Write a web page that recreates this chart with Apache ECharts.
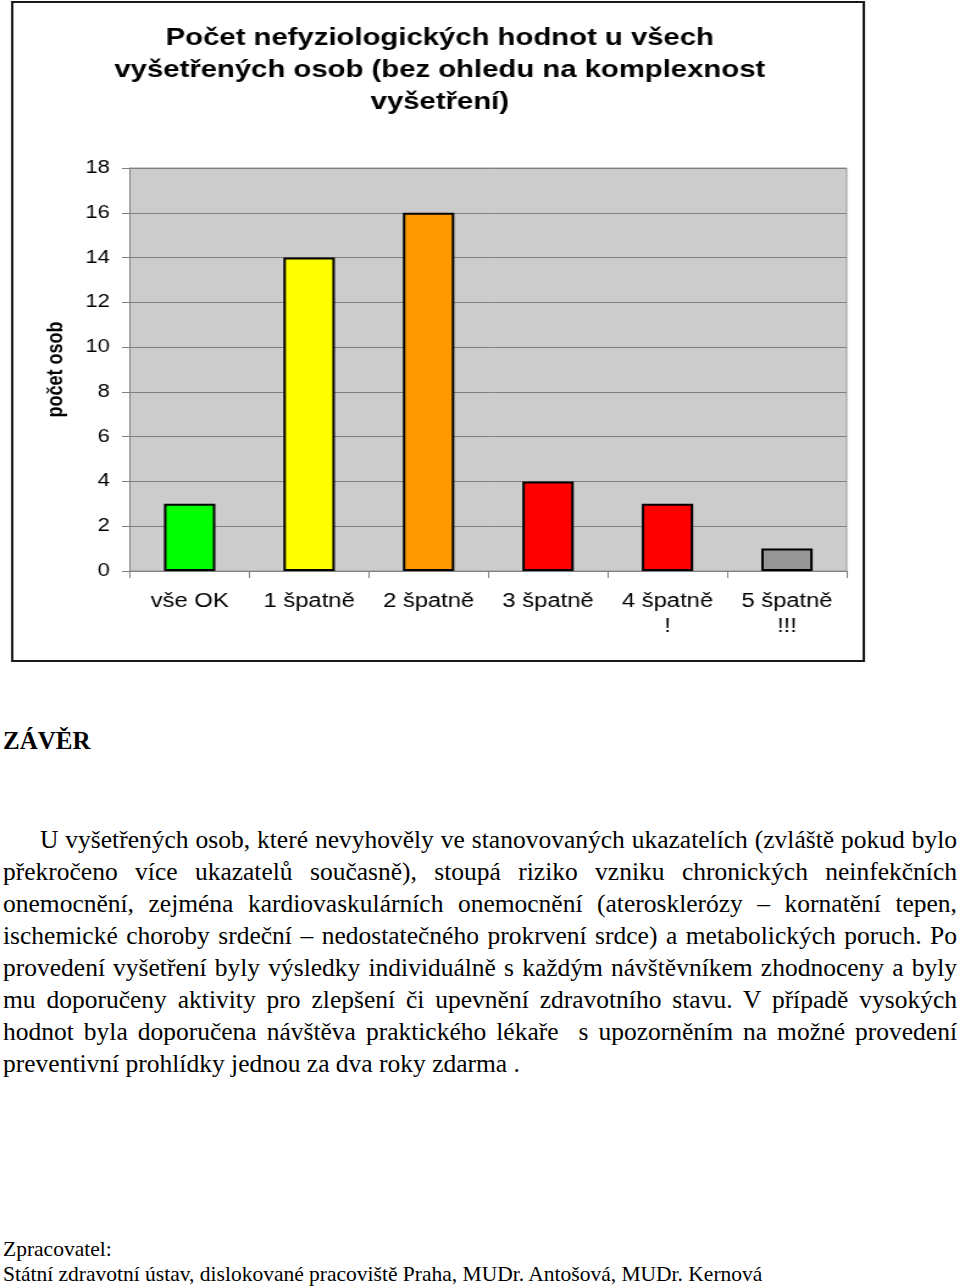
<!DOCTYPE html>
<html>
<head>
<meta charset="utf-8">
<script src="https://cdn.jsdelivr.net/npm/echarts@6/dist/echarts.min.js"></script>
<style>
  body { margin: 0; background: #fff; }
  /* puvodni graf je v dokumentu roztazeny do sirky */
  #chart { position: absolute; left: 0; top: 0; width: 787px; height: 670px; transform: scaleX(1.22); transform-origin: 0 0; }
  .txt { position: absolute; font-family: "Liberation Serif", "Times New Roman", serif; color: #000; }
  #heading { left: 3px; top: 727px; font-size: 25px; font-weight: bold; }
  #para { left: 3px; top: 824px; width: 954px; font-size: 25.5px; line-height: 32px; }
  #para div { white-space: nowrap; text-align: justify; text-align-last: justify; }
  #para div.last { text-align-last: left; }
  #foot { left: 3px; top: 1237px; font-size: 21.5px; line-height: 25px; }
</style>
</head>
<body>
<div id="chart"></div>
<div class="txt" id="heading">ZÁVĚR</div>
<div class="txt" id="para">
  <div style="padding-left:37px">U vyšetřených osob, které nevyhověly ve stanovovaných ukazatelích (zvláště pokud bylo</div>
  <div>překročeno více ukazatelů současně), stoupá riziko vzniku chronických neinfekčních</div>
  <div>onemocnění, zejména kardiovaskulárních onemocnění (aterosklerózy – kornatění tepen,</div>
  <div>ischemické choroby srdeční – nedostatečného prokrvení srdce) a metabolických poruch. Po</div>
  <div>provedení vyšetření byly výsledky individuálně s každým návštěvníkem zhodnoceny a byly</div>
  <div>mu doporučeny aktivity pro zlepšení či upevnění zdravotního stavu. V případě vysokých</div>
  <div>hodnot byla doporučena návštěva praktického lékaře &nbsp;s upozorněním na možné provedení</div>
  <div class="last">preventivní prohlídky jednou za dva roky zdarma .</div>
</div>
<div class="txt" id="foot">Zpracovatel:<br>Státní zdravotní ústav, dislokované pracoviště Praha, MUDr. Antošová, MUDr. Kernová</div>
<script>
// pocty osob podle poctu nevyhovujicich ukazatelu
var categories = ["vše OK", "1 špatně", "2 špatně", "3 špatně", "4 špatně\n!", "5 špatně\n!!!"];
var counts = [3, 14, 16, 4, 3, 1];
var barColors = ["#00ff00", "#ffff00", "#ff9900", "#ff0000", "#ff0000", "#969696"];
var titleText = "Počet nefyziologických hodnot u všech\nvyšetřených osob (bez ohledu na komplexnost\nvyšetření)";

var chart = echarts.init(document.getElementById("chart"));
var font = "'Liberation Sans', Arial, sans-serif";

var option = {
  animation: false,
  title: {
    text: titleText,
    left: 355.5,
    top: 17,
    textAlign: "center",
    textStyle: {
      fontFamily: font,
      fontSize: 24,
      fontWeight: "bold",
      color: "#000",
      lineHeight: 32,
    },
  },
  graphic: [
    {
      type: "rect",
      shape: { x: 10, y: 2, width: 698, height: 659 },
      style: { fill: "none", stroke: "#1a1a1a", lineWidth: 2 },
      silent: true,
    },
  ],
  grid: {
    left: 106.5,
    top: 168,
    width: 587.5,
    height: 403,
    show: true,
    backgroundColor: "#cccccc",
    borderWidth: 1,
    borderColor: "#999999",
  },
  xAxis: {
    type: "category",
    data: categories,
    axisLine: { lineStyle: { color: "#808080", width: 1 } },
    axisTick: { show: true, length: 7, lineStyle: { color: "#808080" } },
    axisLabel: {
      fontFamily: font,
      fontSize: 19.5,
      color: "#000",
      lineHeight: 25,
      margin: 18,
      interval: 0,
    },
  },
  yAxis: {
    type: "value",
    min: 0,
    max: 18,
    interval: 2,
    name: "počet osob",
    nameLocation: "middle",
    nameGap: 51,
    nameTextStyle: {
      fontFamily: font,
      fontSize: 18,
      fontWeight: "bold",
      color: "#000",
    },
    axisLine: { show: true, lineStyle: { color: "#808080", width: 1 } },
    axisTick: { show: true, length: 6.5, lineStyle: { color: "#808080" } },
    splitLine: { lineStyle: { color: "#808080", width: 1 } },
    axisLabel: {
      fontFamily: font,
      fontSize: 18,
      color: "#000",
      margin: 16.4,
    },
  },
  series: [
    {
      type: "bar",
      barWidth: "43%",
      data: counts.map(function (v, i) {
        return { value: v, itemStyle: { color: barColors[i] } };
      }),
      itemStyle: { borderColor: "#000", borderWidth: 2 },
    },
  ],
};
chart.setOption(option);
</script>
</body>
</html>
